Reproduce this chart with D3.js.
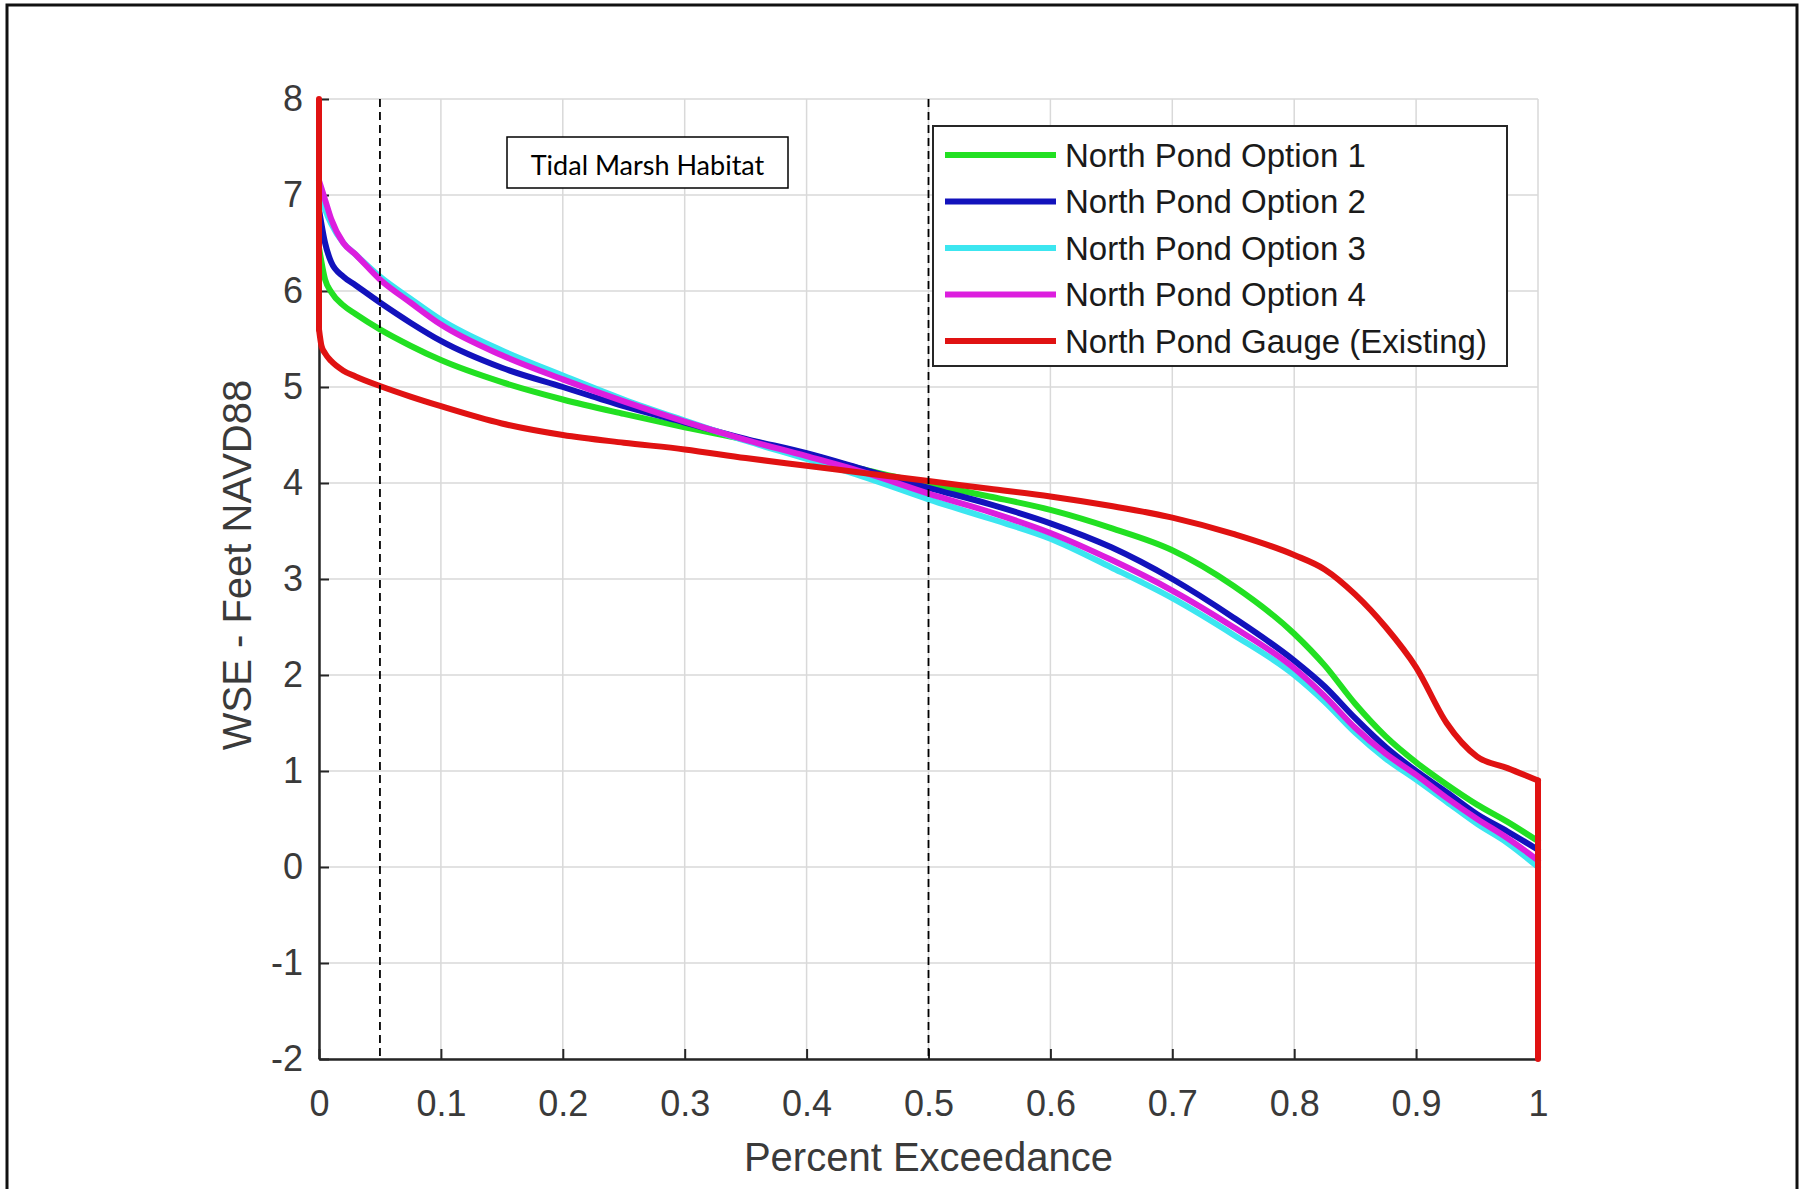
<!DOCTYPE html>
<html>
<head>
<meta charset="utf-8">
<script src="https://cdn.jsdelivr.net/npm/d3@7"></script>
<style>
  html, body { margin: 0; padding: 0; background: #fff; }
  svg { display: block; }
  text { font-family: "Liberation Sans", Arial, Helvetica, sans-serif; }
</style>
</head>
<body>
<svg id="chart" width="1805" height="1189"></svg>
<script>
// Exceedance probability for the option runs
const xOptions = [0, 0.005, 0.01, 0.02, 0.03, 0.05, 0.075, 0.1, 0.15, 0.2, 0.25, 0.3, 0.35, 0.4, 0.45,
                  0.5, 0.55, 0.6, 0.65, 0.7, 0.75, 0.8, 0.825, 0.85, 0.875, 0.9, 0.925, 0.95, 0.975, 1.0];

// Water surface elevation (ft NAVD88) for each option
const option1 = [6.45, 6.12, 5.99, 5.85, 5.76, 5.6, 5.43, 5.28, 5.05, 4.87, 4.72, 4.58, 4.45, 4.3, 4.13,
                 3.99, 3.86, 3.72, 3.53, 3.3, 2.93, 2.43, 2.1, 1.7, 1.36, 1.09, 0.86, 0.65, 0.47, 0.27];
const option2 = [6.85, 6.5, 6.3, 6.15, 6.06, 5.88, 5.67, 5.48, 5.2, 5.0, 4.8, 4.63, 4.46, 4.31, 4.13,
                 3.95, 3.78, 3.58, 3.33, 3.0, 2.6, 2.15, 1.88, 1.55, 1.25, 1.0, 0.78, 0.55, 0.37, 0.18];
const option3 = [7.05, 6.85, 6.7, 6.5, 6.38, 6.15, 5.92, 5.7, 5.38, 5.12, 4.87, 4.65, 4.44, 4.25, 4.05,
                 3.83, 3.63, 3.42, 3.12, 2.8, 2.42, 2.0, 1.72, 1.4, 1.13, 0.91, 0.68, 0.45, 0.25, 0.0];
const option4 = [7.15, 6.95, 6.75, 6.5, 6.38, 6.12, 5.88, 5.65, 5.33, 5.08, 4.85, 4.64, 4.45, 4.28, 4.1,
                 3.89, 3.7, 3.48, 3.2, 2.88, 2.5, 2.07, 1.78, 1.45, 1.18, 0.96, 0.72, 0.5, 0.3, 0.07];

// Existing gauge record (starts and ends with vertical runs at x = 0 and x = 1)
const xGauge = [0, 0, 0.002, 0.005, 0.01, 0.02, 0.03, 0.05, 0.075, 0.1, 0.15, 0.2, 0.25, 0.3, 0.35, 0.4, 0.45,
                0.5, 0.55, 0.6, 0.65, 0.7, 0.75, 0.8, 0.825, 0.85, 0.875, 0.9, 0.925, 0.95, 0.975, 1.0, 1.0];
const gauge  = [8, 5.6, 5.43, 5.35, 5.27, 5.17, 5.11, 5.01, 4.9, 4.8, 4.62, 4.5, 4.42, 4.35, 4.26, 4.18, 4.1,
                4.02, 3.94, 3.86, 3.76, 3.64, 3.47, 3.25, 3.1, 2.84, 2.5, 2.08, 1.5, 1.15, 1.03, 0.9, -2];

const seriesNames  = ["North Pond Option 1", "North Pond Option 2", "North Pond Option 3",
                      "North Pond Option 4", "North Pond Gauge (Existing)"];
const seriesColors = ["#22e022", "#1212bc", "#3ce6f0", "#dc1ede", "#e01212"];

const xTicks = [0, 0.1, 0.2, 0.3, 0.4, 0.5, 0.6, 0.7, 0.8, 0.9, 1];
const yTicks = [-2, -1, 0, 1, 2, 3, 4, 5, 6, 7, 8];

// Habitat reference exceedance levels
const markerLines = [0.05, 0.5];
const annotation = "Tidal Marsh Habitat";

const svg = d3.select("#chart");
const W = 1805, H = 1189;
const margin = { left: 319, top: 99, right: W - 1538, bottom: H - 1059 };
const width = W - margin.left - margin.right;
const height = H - margin.top - margin.bottom;

// page frame
svg.append("rect")
  .attr("x", 7).attr("y", 5).attr("width", 1790).attr("height", 1200)
  .attr("fill", "none").attr("stroke", "#111").attr("stroke-width", 3);

const g = svg.append("g").attr("transform", `translate(${margin.left},${margin.top})`);

const x = d3.scaleLinear().domain([0, 1]).range([0, width]);
const y = d3.scaleLinear().domain([-2, 8]).range([height, 0]);

// grid
g.append("g").attr("class", "grid-x")
  .selectAll("line").data(xTicks).join("line")
  .attr("x1", d => x(d)).attr("x2", d => x(d))
  .attr("y1", 0).attr("y2", height)
  .attr("stroke", "#d9d9d9").attr("stroke-width", 1.5);
g.append("g").attr("class", "grid-y")
  .selectAll("line").data(yTicks).join("line")
  .attr("x1", 0).attr("x2", width)
  .attr("y1", d => y(d)).attr("y2", d => y(d))
  .attr("stroke", "#d9d9d9").attr("stroke-width", 1.5);

// axes (ticks point inward)
const fmt = d => String(d);
const xAxis = d3.axisBottom(x).tickValues(xTicks).tickFormat(fmt).tickSizeInner(-10).tickSizeOuter(0).tickPadding(31);
const yAxis = d3.axisLeft(y).tickValues(yTicks).tickFormat(fmt).tickSizeInner(-10).tickSizeOuter(0).tickPadding(16);

const gx = g.append("g").attr("transform", `translate(0,${height})`).call(xAxis);
const gy = g.append("g").call(yAxis);
[gx, gy].forEach(a => {
  a.select(".domain").attr("stroke", "#262626").attr("stroke-width", 2.5);
  a.selectAll(".tick line").attr("stroke", "#262626").attr("stroke-width", 2);
  a.selectAll(".tick text").attr("fill", "#3a3a3a").style("font-size", "36px");
});
gx.selectAll(".tick text").attr("dy", "0.71em");

// data lines
const smooth = d3.line()
  .x(d => x(d[0])).y(d => y(d[1]))
  .curve(d3.curveMonotoneX);
const straight = d3.line()
  .x(d => x(d[0])).y(d => y(d[1]));

const optionSeries = [option1, option2, option3, option4];
optionSeries.forEach((vals, i) => {
  g.append("path")
    .datum(xOptions.map((xv, j) => [xv, vals[j]]))
    .attr("fill", "none")
    .attr("stroke", seriesColors[i])
    .attr("stroke-width", 6)
    .attr("stroke-linejoin", "round")
    .attr("stroke-linecap", "round")
    .attr("d", smooth);
});

// gauge: vertical runs drawn straight, the rest smoothed
const gaugePts = xGauge.map((xv, j) => [xv, gauge[j]]);
const n = gaugePts.length;
[
  { pts: gaugePts.slice(0, 2), gen: straight },
  { pts: gaugePts.slice(1, n - 1), gen: smooth },
  { pts: gaugePts.slice(n - 2), gen: straight }
].forEach(part => {
  g.append("path")
    .datum(part.pts)
    .attr("fill", "none")
    .attr("stroke", seriesColors[4])
    .attr("stroke-width", 6)
    .attr("stroke-linejoin", "round")
    .attr("stroke-linecap", "round")
    .attr("d", part.gen);
});

// dashed reference lines
g.selectAll(".marker").data(markerLines).join("line")
  .attr("class", "marker")
  .attr("x1", d => x(d)).attr("x2", d => x(d))
  .attr("y1", 0).attr("y2", height)
  .attr("stroke", "#000").attr("stroke-width", 1.8)
  .attr("stroke-dasharray", "8,5");

// axis titles
g.append("text")
  .attr("x", width / 2).attr("y", height + 112)
  .attr("text-anchor", "middle")
  .attr("fill", "#3a3a3a")
  .style("font-size", "40px")
  .text("Percent Exceedance");

g.append("text")
  .attr("transform", `translate(${251 - margin.left},${height / 2 - 14}) rotate(-90)`)
  .attr("text-anchor", "middle")
  .attr("fill", "#3a3a3a")
  .style("font-size", "40px")
  .text("WSE - Feet NAVD88");

// legend
const legend = svg.append("g").attr("transform", "translate(933,126)");
legend.append("rect")
  .attr("width", 574).attr("height", 240)
  .attr("fill", "#fff").attr("stroke", "#262626").attr("stroke-width", 2);
seriesNames.forEach((name, i) => {
  const cy = 29 + i * 46.5;
  legend.append("line")
    .attr("x1", 12).attr("x2", 123).attr("y1", cy).attr("y2", cy)
    .attr("stroke", seriesColors[i]).attr("stroke-width", 6);
  legend.append("text")
    .attr("x", 132).attr("y", cy).attr("dy", "0.36em")
    .attr("fill", "#1a1a1a")
    .style("font-size", "33px")
    .text(name);
});

// habitat annotation
const ann = svg.append("g").attr("transform", "translate(507,137)");
ann.append("rect")
  .attr("width", 281).attr("height", 51)
  .attr("fill", "#fff").attr("stroke", "#000").attr("stroke-width", 1.5);
ann.append("text")
  .attr("x", 140.5).attr("y", 29).attr("dy", "0.35em")
  .attr("text-anchor", "middle")
  .attr("fill", "#000")
  .style("font-family", "Lato, 'Open Sans', sans-serif")
  .style("font-size", "27px")
  .text(annotation);
</script>
</body>
</html>
